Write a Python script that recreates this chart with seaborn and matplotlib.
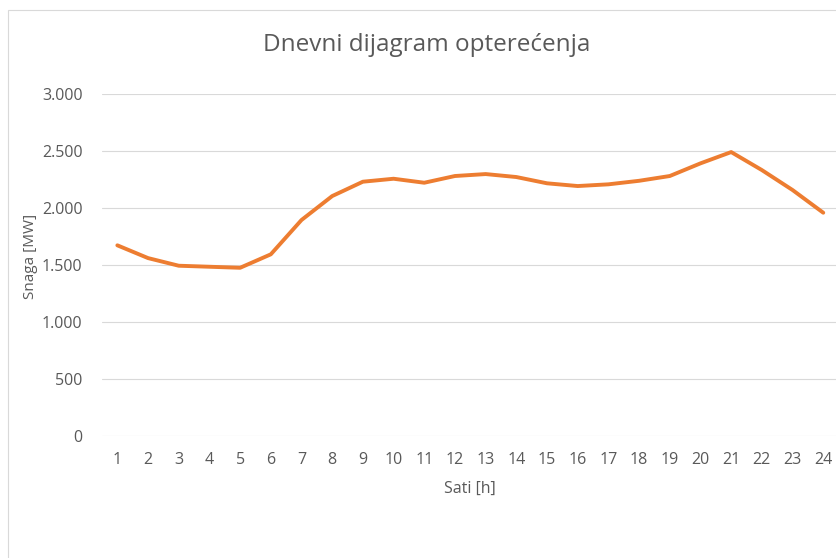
import matplotlib
matplotlib.use("Agg")
import matplotlib.pyplot as plt
import seaborn as sns
import pandas as pd
from matplotlib.ticker import FuncFormatter, MultipleLocator
from matplotlib.patches import Rectangle

# hourly load (MW)
hours = list(range(1, 25))
load_mw = [1670, 1558, 1491, 1482, 1473, 1591, 1892, 2102, 2228, 2254, 2219, 2278,
           2295, 2269, 2214, 2190, 2205, 2236, 2278, 2389, 2488, 2330, 2155, 1956]

title = "Dnevni dijagram opterećenja"
xlabel = "Sati [h]"
ylabel = "Snaga [MW]"

df = pd.DataFrame({"sat": hours, "snaga": load_mw})

sns.set_style("white")
plt.rcParams["font.family"] = ["Open Sans", "DejaVu Sans"]
text_col = "#595959"

fig = plt.figure(figsize=(8.37, 5.58), dpi=100)
fig.patch.set_facecolor("white")

# chart border like the Excel chart area
fig.patches.append(Rectangle((8 / 837, -0.1), 1.2, (558 - 10) / 558 + 0.1,
                             transform=fig.transFigure, fill=False,
                             edgecolor="#D9D9D9", linewidth=0.8))

ax = fig.add_axes([102 / 837, (558 - 435.7) / 558, (838.6 - 102) / 837, (435.7 - 93.7) / 558])

sns.lineplot(data=df, x="sat", y="snaga", ax=ax, color="#ED7D31", linewidth=2.8)

ax.set_xlim(0.5, 24.5)
ax.set_ylim(0, 3000)
ax.set_xticks(hours)
ax.yaxis.set_major_locator(MultipleLocator(500))
ax.yaxis.set_major_formatter(FuncFormatter(lambda v, p: f"{int(v):,}".replace(",", ".")))
ax.grid(axis="y", color="#D9D9D9", linewidth=0.8)
ax.set_axisbelow(True)
for s in ax.spines.values():
    s.set_visible(False)
ax.tick_params(axis="both", length=0, labelsize=11.5, labelcolor=text_col)
ax.tick_params(axis="y", pad=14)
ax.tick_params(axis="x", pad=12)

ax.set_xlabel(xlabel, fontsize=11.5, color=text_col, labelpad=9)
ax.set_ylabel(ylabel, fontsize=11, color=text_col, va="center")
ax.yaxis.set_label_coords(-0.097, 0.525)
fig.text(427 / 837, 1 - 45 / 558, title, ha="center", va="center", fontsize=17.5, color=text_col)

fig.savefig("out.png", dpi=100)
